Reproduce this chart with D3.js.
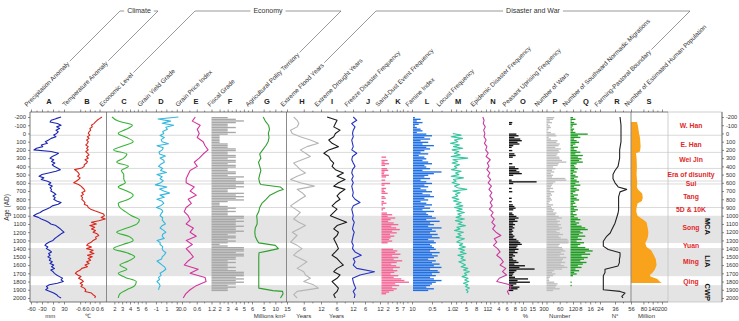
<!DOCTYPE html>
<html>
<head>
<meta charset="utf-8">
<script src="https://cdn.jsdelivr.net/npm/d3@7"></script>
<style>
  body { margin: 0; background: #fff; }
  svg { display: block; font-family: Arial, "Liberation Sans", sans-serif; }
</style>
</head>
<body>
<svg width="739" height="321"></svg>
<script>
// sampling grids (years AD)
var years20 = d3.range(-200, 2001, 20);
var years20to1900 = d3.range(-200, 1901, 20);
var years25 = d3.range(-200, 1901, 25);
var years40 = d3.range(-200, 2001, 40);
var years50 = d3.range(-200, 2001, 50);
var sandDustYears = d3.range(280, 1941, 20);
var locustYears = d3.range(0, 1941, 20);
var epidemicYears = d3.range(-200, 1961, 40);

// A  precipitation anomaly (mm)
var precipitation = [
  22, 8, -5, -8, 12, 22, 10, 18, 8, 14,
  10, 2, 8, -5, -12, -21, -15, -32, -28, -45,
  -52, -5, 15, 8, -2, -8, 2, -4, 5, -2,
  3, 12, 20, 8, -12, -30, -38, -25, -32, -15,
  -6, -12, -2, -8, -4, -6, 2, 8, 0, 6,
  2, 10, 22, 14, -2, -8, -18, -28, -35, -45,
  -53, -40, -32, -20, -12, -6, 8, 14, 20, 25,
  30, 22, 16, 10, 4, 0, -10, -18, -22, -14,
  -18, -10, -4, -12, -8, -14, -6, -10, -2, -8,
  2, -4, 4, -6, 0, 4, 10, 18, 26, 22,
  28, 12, -10, -18, -14, -20, -8, 2, 10, 14,
  22];
// B  temperature anomaly (°C)
var temperature = [
  0.75, 0.6, 0.45, 0.35, 0.25, 0.1, 0.15, 0.0, 0.05, -0.05,
  -0.1, 0.0, -0.15, -0.05, -0.2, -0.1, -0.15, -0.25, -0.1, -0.2,
  -0.1, -0.25, -0.15, -0.05, -0.2, -0.1, -0.3, -0.15, -0.2, -0.35,
  -0.35, -0.5, -0.95, -0.8, -0.7, -0.65, -0.75, -0.6, -0.7, -0.85,
  -1.0, -0.7, -0.55, -0.45, -0.35, -0.3, -0.5, -0.4, -0.55, -0.45,
  -0.5, -0.4, -0.3, -0.35, -0.15, -0.1, 0.05, 0.3, 0.6, 0.85,
  0.9, 0.7, 0.95, 0.55, 0.1, 0.4, 0.0, 0.3, 0.1, 0.35,
  0.2, 0.45, 0.55, 0.35, 0.4, 0.2, 0.1, -0.1, -0.2, 0.1,
  -0.2, 0.2, 0.0, 0.25, -0.15, 0.15, -0.1, 0.05, -0.2, -0.05,
  -0.3, -0.15, -0.5, -0.6, -0.8, -0.9, -0.75, -0.55, -0.7, -0.5,
  -0.4, -0.6, -0.45, -0.55, -0.35, -0.25, -0.3, 0.1, 0.2, 0.35,
  0.3];
// C  economic level (50-yr)
var economicLevel = [
  1.7, 2.5, 4.3, 3.5, 2.5, 3.6, 4.4, 3.2, 1.9, 3.6,
  3.2, 2.3, 3.8, 2.9, 3.2, 3.2, 3.4, 2.5, 3.6, 4.4,
  3.8, 2.5, 2.7, 3.4, 4.2, 5.2, 4.9, 3.6, 2.3, 3.8,
  4.4, 3.1, 1.9, 3.6, 4.6, 3.8, 2.7, 3.6, 2.5, 3.4,
  4.8, 4.6, 3.6, 2.7, 2.5];
// D  grain yield grade (25-yr, to 1900)
var grainYield = [
  3.3, -0.6, 1.8, 0.2, 2.4, 0.9, 1.2, 0.3,
  0.5, -0.2, 0.6, 0.0, 0.2, 1.4, -0.8, 0.4,
  0.2, -0.4, -0.3, 0.8, -0.2, 0.5, 0.6, -0.1,
  -0.5, 0.3, -0.1, 1.0, -0.8, 0.2, -0.2, 0.4,
  -0.1, -1.1, 1.1, -0.3, 0.5, 1.6, -0.2, 0.6,
  -0.8, 0.2, 0.5, 0.0, -0.9, 0.1, 0.3, 0.0,
  -0.2, 0.3, 0.2, 0.5, 0.8, 0.1, -0.2, 0.4,
  0.9, 0.3, 0.2, 0.6, -0.8, -0.2, -0.2, 0.3,
  0.2, 0.4, 0.9, 0.6, 0.2, 0.1, -0.8, -0.3,
  0.2, 0.7, 0.9, 0.4, -0.2, 0.0, -0.5, -0.3,
  -0.8, -0.4, -0.2, -0.4, -0.5];
// E  grain price index (50-yr)
var grainPrice = [
  0.54, 0.42, 0.74, 0.62, 0.70, 0.62, 0.86, 0.94, 1.06, 0.86,
  0.70, 0.50, 0.62, 0.33, 0.25, 0.17, 0.17, 0.50, 0.33, 0.58,
  0.25, 0.38, 0.17, 0.09, 0.25, 0.33, 0.17, 0.46, 0.33, 0.58,
  0.17, 0.42, 0.17, 0.33, 0.46, 0.25, 0.09, 0.66, 0.33, 0.94,
  0.98, 0.58, 0.33, 0.15, 0.05];
// F  fiscal grade (20-yr, to 1900)
var fiscalGrade = [
  3, 4, 5, 4, 3, 3, 4, 3, 3, 4,
  3, 2, 2, 2, 2, 2, 3, 3, 3, 4,
  4, 3, 3, 4, 4, 3, 4, 4, 3, 4,
  4, 3, 3, 4, 4, 3, 5, 4, 4, 5,
  5, 4, 5, 4, 3, 3, 5, 4, 5, 4,
  5, 3, 2, 2, 3, 4, 3, 4, 3, 3,
  5, 5, 4, 5, 4, 4, 5, 4, 4, 5,
  4, 3, 4, 4, 3, 4, 3, 2, 3, 5,
  5, 5, 4, 5, 5, 4, 4, 3, 4, 3,
  3, 4, 3, 4, 5, 5, 5, 4, 5, 4,
  5, 4, 3, 4, 3,
  3];
// G  agricultural polity territory (million km²)
var territoryYears = [-200, -150, -100, -50, 0, 50, 100, 150, 200, 250, 300, 350, 400, 450, 500,
  550, 600, 620, 650, 680, 700, 750, 800, 850, 900, 950, 1000, 1050, 1100, 1150,
  1200, 1250, 1300, 1330, 1360, 1400, 1430, 1450, 1500, 1600, 1700, 1800, 1880, 1910, 1920,
  1950, 2000];
var territory = [4.8, 5.7, 7.1, 7.5, 7.0, 7.3, 6.9, 5.9, 4.6, 3.3, 3.8, 2.8, 3.3, 3.8, 3.3,
  2.9, 3.3, 3.8, 12.1, 13.4, 11.3, 7.7, 6.0, 4.2, 3.3, 2.9, 2.0, 2.2, 2.2, 1.4,
  1.2, 1.4, 2.2, 2.9, 10.0, 11.3, 6.5, 3.0, 2.9, 2.9, 2.9, 2.9, 2.9, 9.0, 13.1,
  13.3, 12.2];
// H  extreme flood years (40-yr)
var floodYears = [
  2.5, 3.7, 4.3, 3.7, 1.4, 2.0, 4.8, 8.3, 11.1, 7.1,
  4.8, 6.6, 8.3, 5.4, 2.5, 3.7, 4.8, 6.6, 3.7, 1.4,
  4.8, 9.7, 3.7, 5.4, 6.6, 4.8, 3.1, 1.4, 3.1, 4.8,
  3.7, 2.5, 4.3, 6.6, 4.3, 2.0, 3.7, 2.5, 1.4, 3.7,
  5.4, 3.7, 2.5, 4.8, 7.1, 5.4, 3.7, 6.0, 6.6, 8.3,
  6.0, 9.4, 11.1, 3.7, 2.5, 3.7];
// I  extreme drought years (40-yr)
var droughtYears = [
  2.6, 6.2, 5.6, 5.0, 7.3, 5.6, 5.0, 3.2, 4.4, 6.7,
  3.2, 1.4, 3.2, 3.8, 5.0, 4.4, 5.6, 8.5, 6.2, 9.1,
  6.7, 5.0, 9.1, 7.3, 6.2, 7.3, 5.6, 4.4, 6.2, 5.0,
  3.8, 6.7, 9.7, 6.2, 5.0, 6.7, 6.2, 5.0, 5.6, 6.2,
  6.7, 5.6, 4.4, 6.2, 7.3, 8.5, 6.2, 5.0, 7.3, 6.2,
  4.4, 5.6, 6.7, 6.2, 5.0, 5.6];
// J  freeze disaster frequency (40-yr)
var freezeFreq = [
  1.3, 2.7, 0.7, 2.0, 1.3, 1.0, 1.3, 0.7, 1.0, 1.3,
  0.7, 2.7, 1.0, 0.7, 1.3, 2.0, 1.0, 0.7, 1.3, 0.7,
  1.3, 0.7, 1.0, 1.3, 1.0, 2.0, 4.0, 1.3, 0.7, 1.0,
  1.3, 1.0, 1.7, 1.3, 1.0, 1.7, 1.3, 1.0, 0.7, 1.3,
  1.0, 2.0, 4.5, 1.3, 2.0, 1.3, 2.7, 9.8, 4.0, 1.0,
  1.3, 1.7, 2.3, 1.3, 2.0, 1.7];
// K  sand-dust event frequency (20-yr, 280-1940)
var sandDust = [
  1.5, 0, 2.0, 1.0, 2.5, 1.2, 0, 1.8, 2.2, 1.0,
  0.8, 2.4, 1.5, 0, 1.2, 0, 2.8, 1.0, 0, 1.5,
  0.8, 1.2, 2.0, 0, 1.0, 1.4, 0, 0.8, 1.6, 0.5,
  0, 1.2, 0.5, 0, 1.8, 3.5, 2.0, 4.5, 3.0, 2.2,
  4.0, 5.5, 3.2, 4.8, 6.0, 3.5, 5.0, 2.8, 4.2, 3.0,
  2.5, 3.5, 2.0, 0, 0, 0, 3.8, 5.2, 4.5, 6.2,
  3.5, 5.5, 4.0, 6.8, 5.0, 3.2, 4.8, 6.0, 3.8, 5.2,
  4.2, 3.0, 5.5, 4.0, 6.5, 7.5, 9.0, 4.5, 5.8, 3.5,
  5.0, 4.0, 2.5, 1.5];
// L  famine index (20-yr, to 1900)
var famineIndex = [
  0.05, 0.2, 0.1, 0.25, 0.15, 0.05, 0.1, 0.2, 0.25, 0.1,
  0.35, 0.5, 0.3, 0.45, 0.2, 0.4, 0.25, 0.55, 0.35, 0.45,
  0.3, 0.2, 0.4, 0.15, 0.3, 0.35, 0.25, 0.4, 0.5, 0.3,
  0.35, 0.45, 0.25, 0.75, 0.55, 0.4, 0.3, 0.45, 0.2, 0.35,
  0.5, 0.3, 0.4, 0.2, 0.35, 0.5, 0.25, 0.45, 0.55, 0.3,
  0.4, 0.2, 0.35, 0.5, 0.3, 0.45, 0.25, 0.55, 0.35, 0.4,
  0.5, 0.6, 0.35, 0.7, 0.45, 0.55, 0.4, 0.75, 0.5, 0.6,
  0.45, 0.65, 0.5, 0.7, 0.4, 0.55, 0.6, 0.45, 0.5, 0.55,
  0.6, 0.45, 0.7, 0.5, 0.65, 0.55, 0.4, 0.6, 0.5, 0.7,
  0.55, 0.75, 0.45, 0.65, 0.7, 0.5, 0.6, 0.45, 0.55, 0.75,
  0.6, 0.5, 0.45, 0.35, 0.55,
  0.4];
// M  locust frequency (20-yr, 0-1940)
var locustFreq = [
  1.0, 3.5, 0.5, 3.9, 1.5, 2.5, 0.3, 3.0, 1.2, 4.0,
  0.8, 2.8, 1.5, 3.2, 0.5, 5.5, 1.0, 2.5, 0.8, 3.0,
  1.5, 2.2, 0.6, 3.5, 1.8, 2.8, 0.5, 4.2, 1.2, 2.0,
  0.8, 3.0, 1.5, 2.4, 5.2, 1.0, 3.2, 1.8, 2.5, 0.8,
  2.8, 1.2, 3.5, 2.0, 4.0, 1.5, 3.8, 2.2, 4.5, 2.5,
  3.5, 2.0, 4.5, 1.8, 3.8, 2.6, 4.8, 2.2, 3.2, 1.5,
  4.2, 2.5, 3.5, 2.0, 4.5, 3.0, 2.2, 4.0, 3.0, 4.8,
  2.8, 4.5, 3.2, 5.0, 2.5, 4.2, 3.5, 4.8, 2.8, 4.0,
  4.8, 3.5, 5.5, 4.2, 6.0, 4.5, 5.2, 3.8, 5.6, 4.6,
  5.8, 4.2, 5.5, 4.8, 6.0, 5.0, 5.6, 5.2];
// N  epidemic disaster frequency (40-yr, to 1960)
var epidemicFreq = [
  0.2, 0.5, 0.3, 0.8, 0.4, 0.7, 0.5, 1.0, 0.6, 1.2,
  0.9, 1.5, 1.0, 2.0, 1.3, 1.7, 1.2, 1.9, 1.4, 2.1,
  1.5, 2.3, 1.7, 2.4, 1.9, 2.6, 2.0, 2.5, 1.8, 2.7,
  2.2, 3.0, 2.4, 3.2, 2.6, 3.4, 4.6, 3.0, 3.6, 2.8,
  3.8, 4.4, 3.6, 4.6, 5.2, 4.4, 5.8, 5.0, 6.0, 4.2,
  3.6, 6.8, 7.0, 6.2, 6.6];
// O  peasant uprising frequency (%, 20-yr, to 1900)
var uprisingFreq = [
  0, 0, 0, 0.3, 0.2, 0, 0, 0, 0, 0,
  1.5, 2.5, 0.8, 3.5, 4.5, 2.0, 3.0, 0.5, 0.2, 0,
  0.3, 0, 0.8, 1.2, 0.4, 0, 0, 0, 0.3, 0,
  1.0, 2.5, 1.5, 3.0, 4.5, 0.5, 0, 0, 0.2, 21.0,
  0.5, 0, 0, 0.2, 0, 0.3, 0, 0, 0, 0.2,
  0, 0.2, 0, 0.4, 0.8, 1.2, 0.5, 0, 0.3, 0.6,
  1.5, 2.5, 1.0, 2.0, 0.5, 1.0, 0.4, 0.8, 0.3, 0.5,
  0.2, 0.4, 0.8, 0.5, 1.5, 2.5, 3.5, 4.5, 2.0, 1.5,
  2.5, 1.0, 2.0, 0.5, 1.0, 0.3, 0.5, 1.5, 2.5, 0.8,
  7.0, 3.0, 18.0, 1.5, 0.8, 0.5, 0.3, 1.0, 10.0, 2.0,
  12.0, 1.5, 0.5, 3.0, 2.0,
  0.5];
// P  number of wars (20-yr, to 1900)
var warCount = [
  35, 30, 15, 25, 8, 15, 20, 10, 5, 20,
  40, 45, 10, 20, 50, 45, 60, 55, 40, 65,
  55, 60, 50, 45, 58, 60, 70, 90, 55, 50,
  30, 40, 25, 35, 20, 30, 25, 85, 90, 40,
  30, 25, 20, 30, 15, 35, 20, 25, 15, 20,
  25, 15, 10, 30, 20, 25, 35, 30, 45, 40,
  55, 70, 45, 60, 50, 65, 55, 70, 60, 45,
  60, 75, 55, 65, 95, 100, 100, 60, 55, 70,
  75, 85, 65, 80, 60, 90, 75, 70, 85, 65,
  80, 95, 70, 35, 25, 40, 30, 15, 10, 12,
  35, 50, 45, 40, 60,
  30];
// Q  southward nomadic migrations (20-yr, to 1900)
var migrations = [
  2, 4, 1, 3, 5, 2, 1, 3, 2, 4,
  14, 6, 8, 3, 5, 7, 4, 2, 6, 3,
  5, 8, 4, 10, 6, 9, 7, 10, 5, 3,
  4, 6, 3, 5, 2, 4, 6, 3, 5, 7,
  4, 8, 3, 5, 7, 4, 2, 6, 3, 5,
  7, 3, 4, 2, 5, 3, 6, 4, 2, 5,
  3, 6, 8, 4, 7, 5, 9, 12, 14, 8,
  10, 7, 12, 6, 9, 5, 11, 8, 6, 12,
  15, 18, 12, 16, 9, 14, 11, 8, 13, 10,
  6, 9, 4, 7, 3, 5, 2, 0, 0, 0,
  1, 0, 1, 0, 0,
  0];
// R  farming-pastoral boundary (°N)
var boundaryYears = [-200, -100, 0, 100, 200, 300, 400, 450, 500, 550, 600, 650, 680, 710, 770,
  930, 970, 1090, 1170, 1210, 1250, 1310, 1370, 1410, 1450, 1490, 1530, 1570, 1610, 1650,
  1690, 1730, 1900, 1920, 1940, 1980, 2000];
var boundary = [42.3, 43.5, 43.5, 43.5, 41.8, 41.8, 39.8, 36.0, 33.5, 33.5, 36.0, 40.0, 50.6, 42.3, 40.5,
  40.5, 39.8, 36.0, 31.9, 30.0, 25.6, 21.4, 21.4, 27.5, 42.3, 42.3, 41.5, 41.5, 39.8, 23.5,
  23.5, 21.4, 21.4, 42.3, 48.5, 44.5, 46.0];
// S  estimated human population (million)
var populationYears = [-140, -100, -50, 0, 50, 100, 160, 220, 240, 300, 400, 500, 600, 650, 680,
  730, 780, 820, 850, 900, 950, 1000, 1050, 1080, 1150, 1200, 1250, 1290, 1330, 1380,
  1420, 1480, 1530, 1600, 1650, 1690, 1720, 1740, 1770, 1800, 1818];
var population = [38, 44, 48, 52, 58, 60, 62, 58, 32, 36, 38, 36, 40, 38, 45,
  72, 76, 70, 42, 36, 34, 42, 80, 100, 108, 112, 110, 104, 92, 100,
  130, 148, 160, 165, 155, 140, 122, 125, 170, 185, 198];

var letters = 'ABCDEFGHIJKLMNOPQRS'.split('');
var titles = ['Precipitation Anomaly', 'Temperature Anomaly', 'Economic Level', 'Grain Yield Grade',
  'Grain Price Index', 'Fiscal Grade', 'Agricultural Polity Territory', 'Extreme Flood Years',
  'Extreme Drought Years', 'Freeze Disaster Frequency', 'Sand-Dust Event Frequency', 'Famine Index',
  'Locust Frequency', 'Epidemic Disaster Frequency', 'Peasant Uprising Frequency', 'Number of Wars',
  'Number of Southward Normadic Migrations', 'Farming-Pastoral Boundary',
  'Number of Estimated Human Population'];
var units = ['mm', '\u2103', '', '', '', '', 'Millions km\u00b2', 'Years', 'Years', '', '', '', '', '',
  '%', 'Number', '', 'N\u00b0', 'Million'];
var colDomains = [[-60, 45], [-1.2, 1.0], [1, 6], [-3, 4], [0, 1.2], [1, 6], [0, 15], [0, 12], [0, 12],
  [0, 12], [0, 10], [0, 1], [0, 11], [0, 10], [0, 30], [0, 120], [0, 24], [16, 56], [0, 200]];
var colTicks = [[-60, -30, 0, 30], [-0.6, 0, 0.6], [2, 3, 4, 5, 6], [-1, 1, 3], [0, 0.6, 1.2],
  [2, 3, 4, 5, 6], [5, 10, 15], [6, 12], [6, 12], [6, 12], [2, 5, 7, 10], [0.5, 1], [2, 5, 8, 11],
  [2, 4, 6, 8, 10], [15, 30], [0, 60, 120], [8, 16, 24], [36, 56], [80, 140, 200]];

var groupNames = ['Climate', 'Economy', 'Disaster and War'];
var groupFirst = [0, 2, 7];
var groupLast = [1, 6, 17];

var periodNames = ['W. Han', 'E. Han', 'Wei Jin', 'Era of disunity', 'Sui', 'Tang', '5D & 10K',
  'Song', 'Yuan', 'Ming', 'Qing'];
var periodMid = [-91, 131, 324, 505, 606, 768, 921, 1139, 1365, 1554, 1796];
var dividerYears = [22, 230, 425, 578, 614, 900];
var climateNames = ['MCA', 'LIA', 'CWP'];
var climateMid = [1130, 1554, 1930];
var bandStart = [1000, 1393, 1844];
var bandEnd = [1332, 1735, 2000];

// ---- layout ----
var svg = d3.select('svg');
var plotTop = 112, plotBottom = 302, plotLeft = 30, plotRight = 668, periodRight = 722;
var titleBase = 107, bracketY = 11;
var tickFont = 5.8;
var colRanges = [[31, 69.5], [70.5, 106], [106.5, 145.7], [145.5, 182], [182, 211.5], [211.5, 252],
  [252, 287], [286.5, 321], [320, 353], [350, 380], [381.5, 412], [413, 451], [449.5, 486],
  [482, 523], [509, 542], [546.5, 573], [570.5, 600], [599, 631], [631, 662]];
var titleX = [27, 65, 102, 140, 178, 210, 248, 283, 317, 347, 378, 408, 439, 473, 505, 537, 565, 597, 627];
var letterX = [49, 87, 124, 161, 196, 230, 267, 302, 332, 368, 398, 427, 458, 493, 523, 555, 586, 617, 649];

var y = d3.scaleLinear().domain([-200, 2000]).range([117, 298]);
var x = colDomains.map(function(dom, i) {
  var sc = letters[i] === 'O' ? d3.scaleSqrt() : d3.scaleLinear();
  return sc.domain(dom).range(colRanges[i]);
});

// background bands and dynasty dividers
svg.append('g').selectAll('rect').data(d3.zip(bandStart, bandEnd)).join('rect')
  .attr('x', plotLeft).attr('width', periodRight - plotLeft)
  .attr('y', function(d) { return y(d[0]); })
  .attr('height', function(d) { return (d[1] >= 2000 ? plotBottom : y(d[1])) - y(d[0]); })
  .attr('fill', '#e4e4e4');
svg.append('g').selectAll('line').data(dividerYears).join('line')
  .attr('x1', plotLeft).attr('x2', periodRight)
  .attr('y1', function(d) { return y(d); }).attr('y2', function(d) { return y(d); })
  .attr('stroke', '#dadada').attr('stroke-width', 1);

// ---- marks ----
var binH = y(20) - y(0) - 0.3;

function bars(i, years, values, color) {
  var sc = x[i], base = sc.domain()[0];
  svg.append('g').selectAll('rect')
    .data(d3.zip(years, values).filter(function(d) { return d[1] > 0; }))
    .join('rect')
    .attr('x', sc(base))
    .attr('y', function(d) { return y(d[0]); })
    .attr('width', function(d) { return sc(d[1]) - sc(base); })
    .attr('height', binH)
    .attr('fill', color);
}

function trace(i, years, values, color, curve) {
  var sc = x[i];
  var line = d3.line()
    .x(function(d) { return sc(d[1]); })
    .y(function(d) { return y(d[0]); })
    .curve(curve || d3.curveLinear);
  svg.append('path').datum(d3.zip(years, values))
    .attr('d', line)
    .attr('fill', 'none')
    .attr('stroke', color)
    .attr('stroke-width', 1.1)
    .attr('stroke-linejoin', 'round');
}

bars(5, years20to1900, fiscalGrade, '#a8a8a8');
bars(10, sandDustYears, sandDust, '#f56796');
bars(11, years20to1900, famineIndex, '#1f6fe5');
bars(14, years20to1900, uprisingFreq, '#111');
bars(15, years20to1900, warCount, '#bdbdbd');
bars(16, years20to1900, migrations, '#1f9d22');

var popArea = d3.area()
  .y(function(d) { return y(d[0]); })
  .x0(x[18](0))
  .x1(function(d) { return x[18](d[1]); });
svg.append('path').datum(d3.zip(populationYears, population))
  .attr('d', popArea).attr('fill', '#f8a31b');

trace(0, years20, precipitation, '#1b27b3');
trace(1, years20, temperature, '#d9261c');
trace(2, years50, economicLevel, '#36b336', d3.curveMonotoneY);
trace(3, years25, grainYield, '#33b8de');
trace(4, years50, grainPrice, '#d3349f');
trace(6, territoryYears, territory, '#2f9f2f');
trace(7, years40, floodYears, '#b5b5b5');
trace(8, years40, droughtYears, '#1a1a1a');
trace(9, years40, freezeFreq, '#2532c4');
trace(12, locustYears, locustFreq, '#35c6a0');
trace(13, epidemicYears, epidemicFreq, '#c93aa0');
trace(17, boundaryYears, boundary, '#222');

// ---- frame and separators ----
[2, 7, 18].forEach(function(i) {
  var sx = x[i].range()[0];
  svg.append('line').attr('x1', sx).attr('x2', sx).attr('y1', plotTop).attr('y2', plotBottom)
    .attr('stroke', '#8a8a8a').attr('stroke-width', 1);
});
svg.append('rect').attr('x', plotRight).attr('y', plotTop)
  .attr('width', periodRight - plotRight).attr('height', plotBottom - plotTop)
  .attr('fill', 'none').attr('stroke', '#c4c4c4').attr('stroke-width', 0.8);
svg.append('path')
  .attr('d', 'M' + plotRight + ',' + plotTop + 'H' + plotLeft + 'V' + plotBottom + 'H' + plotRight)
  .attr('fill', 'none').attr('stroke', '#555').attr('stroke-width', 0.8);
svg.append('line').attr('x1', periodRight).attr('x2', periodRight).attr('y1', plotTop).attr('y2', plotBottom)
  .attr('stroke', '#555').attr('stroke-width', 0.8);

// ---- column axes (bottom labelled, top mirrored) ----
function styleAxis(g) {
  g.select('.domain').remove();
  g.selectAll('line').attr('stroke', '#444').attr('stroke-width', 0.6);
  g.selectAll('text').attr('fill', '#333').attr('font-size', tickFont).attr('font-family', null);
}
x.forEach(function(sc, i) {
  var ticks = colTicks[i];
  var dec = ticks.some(function(t) { return t % 1 !== 0; });
  var fmt = function(d) { return dec ? d.toFixed(1) : String(d); };
  var minor = d3.pairs(ticks).map(function(p) { return (p[0] + p[1]) / 2; });

  svg.append('g').attr('transform', 'translate(0,' + plotBottom + ')')
    .call(d3.axisBottom(sc).tickValues(ticks).tickSize(2.5).tickPadding(2).tickFormat(fmt))
    .call(styleAxis);
  svg.append('g').attr('transform', 'translate(0,' + plotBottom + ')')
    .call(d3.axisBottom(sc).tickValues(minor).tickSize(1.4).tickFormat(''))
    .call(styleAxis);
  svg.append('g').attr('transform', 'translate(0,' + plotTop + ')')
    .call(d3.axisTop(sc).tickValues(ticks).tickSize(2.5).tickFormat(''))
    .call(styleAxis);
  svg.append('g').attr('transform', 'translate(0,' + plotTop + ')')
    .call(d3.axisTop(sc).tickValues(minor).tickSize(1.4).tickFormat(''))
    .call(styleAxis);

  if (units[i]) {
    svg.append('text').attr('x', (sc.range()[0] + sc.range()[1]) / 2).attr('y', 318)
      .attr('text-anchor', 'middle').attr('font-size', 6).attr('fill', '#333').text(units[i]);
  }
});

// age axes
var ageTicks = d3.range(-200, 2001, 100);
svg.append('g').attr('transform', 'translate(' + plotLeft + ',0)')
  .call(d3.axisLeft(y).tickValues(ageTicks).tickSize(2).tickPadding(2).tickFormat(String))
  .call(styleAxis);
svg.append('g').attr('transform', 'translate(' + periodRight + ',0)')
  .call(d3.axisRight(y).tickValues(ageTicks).tickSize(2).tickPadding(2).tickFormat(String))
  .call(styleAxis)
  .selectAll('text').attr('font-size', 5.6);
svg.append('text').attr('transform', 'translate(9,' + y(900) + ') rotate(-90)')
  .attr('text-anchor', 'middle').attr('font-size', 6.5).attr('fill', '#333').text('Age (AD)');

// ---- period column ----
svg.append('g').selectAll('text').data(periodNames).join('text')
  .attr('x', 691).attr('y', function(d, i) { return y(periodMid[i]); })
  .attr('dy', '0.35em').attr('text-anchor', 'middle')
  .attr('font-size', 6.8).attr('font-weight', 'bold').attr('fill', '#e0292b')
  .text(function(d) { return d; });
svg.append('g').selectAll('text').data(climateNames).join('text')
  .attr('transform', function(d, i) { return 'translate(708,' + y(climateMid[i]) + ') rotate(90)'; })
  .attr('dy', '0.35em').attr('text-anchor', 'middle')
  .attr('font-size', 7.5).attr('font-weight', 'bold').attr('fill', '#111')
  .text(function(d) { return d; });

// ---- column titles, letters and group brackets ----
var titleNodes = svg.append('g').selectAll('text').data(titles).join('text')
  .attr('transform', function(d, i) { return 'translate(' + titleX[i] + ',' + titleBase + ') rotate(-45)'; })
  .attr('font-size', 6.3).attr('fill', '#333')
  .text(function(d) { return d; });
svg.append('g').selectAll('text').data(letters).join('text')
  .attr('x', function(d, i) { return letterX[i]; }).attr('y', 104)
  .attr('text-anchor', 'middle').attr('font-size', 7.5).attr('font-weight', 'bold').attr('fill', '#222')
  .text(function(d) { return d; });

var diag = Math.SQRT1_2;
function titleEnd(i) {
  var len = titleNodes.nodes()[i].getComputedTextLength() + 2;
  return [titleX[i] + len * diag - 1.5, titleBase - len * diag - 1.5];
}
groupNames.forEach(function(name, g) {
  var a = titleEnd(groupFirst[g]), b = titleEnd(groupLast[g]);
  var ax = a[0] + (a[1] - bracketY), bx = b[0] + (b[1] - bracketY);
  var cx = (ax + bx) / 2;
  var label = svg.append('text').attr('x', cx).attr('y', bracketY).attr('dy', '0.35em')
    .attr('text-anchor', 'middle').attr('font-size', 7).attr('fill', '#333').text(name);
  var w = label.node().getComputedTextLength();
  var p = d3.path();
  p.moveTo(a[0], a[1]); p.lineTo(ax, bracketY); p.lineTo(cx - w / 2 - 3, bracketY);
  p.moveTo(cx + w / 2 + 3, bracketY); p.lineTo(bx, bracketY); p.lineTo(b[0], b[1]);
  svg.append('path').attr('d', p.toString()).attr('fill', 'none')
    .attr('stroke', '#555').attr('stroke-width', 0.6);
});
</script>
</body>
</html>
